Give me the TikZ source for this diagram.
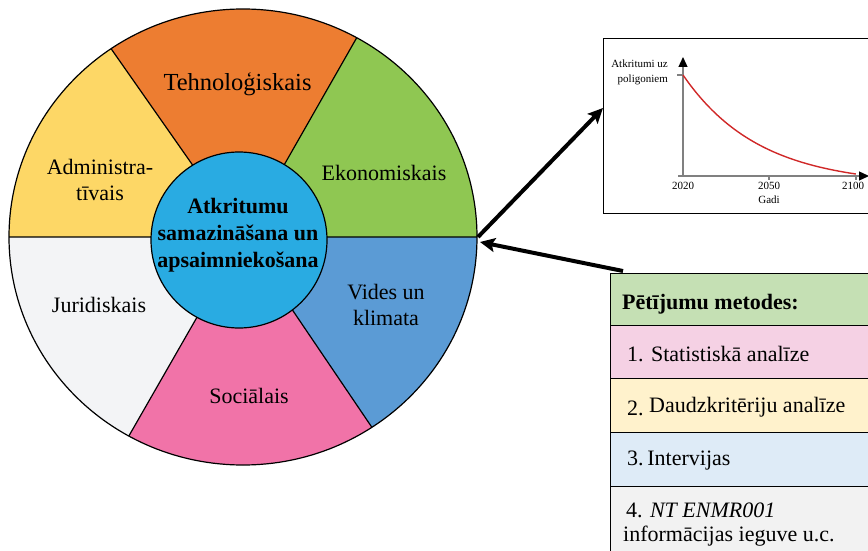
\documentclass[tikz,border=0pt]{standalone}
\usepackage{fontspec}
\setmainfont{Liberation Serif}
\usetikzlibrary{arrows.meta}
\definecolor{cadm}{HTML}{FDD766}
\definecolor{ctech}{HTML}{ED7D31}
\definecolor{ceco}{HTML}{8FC752}
\definecolor{cenv}{HTML}{5B9BD5}
\definecolor{csoc}{HTML}{F173A8}
\definecolor{cjur}{HTML}{F3F4F6}
\definecolor{chub}{HTML}{29ABE2}
\definecolor{thead}{HTML}{C5E0B4}
\definecolor{trowa}{HTML}{F5D1E4}
\definecolor{trowb}{HTML}{FFF2CC}
\definecolor{trowc}{HTML}{DEEBF7}
\definecolor{trowd}{HTML}{F2F2F2}
\definecolor{caxis}{HTML}{808080}
\definecolor{ccurve}{HTML}{D02828}
\begin{document}
\begin{tikzpicture}[x=1pt,y=-1pt,
  wline/.style={line width=1.2, black},
  lbl/.style={font=\fontsize{22}{26}\selectfont, inner sep=0, anchor=base, align=center},
  hubtext/.style={font=\fontsize{22}{27}\selectfont\bfseries, inner sep=0, anchor=base, align=center},
  small/.style={font=\fontsize{11}{15}\selectfont, inner sep=0},
  rowbox/.style={draw, line width=1.2, minimum width=275, anchor=north west, inner sep=0},
  rowtext/.style={font=\fontsize{22}{24}\selectfont, inner sep=0, anchor=base west, align=left},
  bigarrow/.style={line width=4, -{Stealth[length=15,width=14,inset=3]}},
  axisline/.style={line width=1.3, caxis},
]
\useasboundingbox (0,0) rectangle (868,551);
% wheel
\coordinate (C) at (243,237);
\coordinate (pL) at (-150,237);
\coordinate (pUL) at (-150,-324);
\coordinate (pUR) at (582,-357);
\coordinate (pR) at (800,237);
\coordinate (pLR) at (627,804);
\coordinate (pLL) at (-96,828);
\begin{scope}
  \clip (C) ellipse [x radius=234, y radius=228];
  \fill[cadm] (C) -- (pL) -- (pUL) -- cycle;
  \fill[ctech] (C) -- (pUL) -- (pUR) -- cycle;
  \fill[ceco] (C) -- (pUR) -- (pR) -- cycle;
  \fill[cenv] (C) -- (pR) -- (pLR) -- cycle;
  \fill[csoc] (C) -- (pLR) -- (pLL) -- cycle;
  \fill[cjur] (C) -- (pLL) -- (pL) -- cycle;
  \draw[wline] (C) -- (pL) (C) -- (pUL) (C) -- (pUR) (C) -- (pR) (C) -- (pLR) (C) -- (pLL);
\end{scope}
\draw[wline] (C) ellipse [x radius=234, y radius=228];
\node[circle, draw, line width=1.2, fill=chub, minimum size=176, inner sep=0] (hub) at (239,240) {};
\node[hubtext] (hubt) at (238,267) {Atkritumu\\samazināšana un\\apsaimniekošana};
\node[lbl, font=\fontsize{24.5}{28}\selectfont] (tech) at (237.5,91) {Tehnoloģiskais};
\node[lbl] (adm) at (100,200) {Administra-\\tīvais};
\node[lbl] (eco) at (384,180) {Ekonomiskais};
\node[lbl] (jur) at (99,312) {Juridiskais};
\node[lbl] (env) at (386,325) {Vides un\\klimata};
\node[lbl] (soc) at (249,403) {Sociālais};
% chart
\node[draw, line width=1.3, minimum width=275, minimum height=175, anchor=north west, inner sep=0] (chart) at (603,38) {};
\coordinate (O) at (683,176);
\coordinate (ytop) at (683,57);
\coordinate (xleft) at (678,176);
\coordinate (xright) at (869,176);
\draw[axisline, -{Triangle[length=10,width=9,color=black]}] (O) -- (ytop);
\draw[axisline, -{Triangle[length=10,width=9,color=black]}] (xleft) -- (xright);
\draw[axisline] (677,75) -- (683,75);
\draw[axisline] (769,176) -- (769,180);
\draw[axisline] (856,176) -- (856,180);
\draw[line width=1.4, ccurve] plot[domain=0:1, samples=60, smooth] ({683+173*\x},{75+110.3*(1-exp(-2.28*\x))});
\node[small, anchor=base east, align=right] (ylab) at (668,83) {Atkritumi uz\\poligoniem};
\node[small, anchor=base] (y2020) at (683,189.5) {2020};
\node[small, anchor=base] (y2050) at (769,189.5) {2050};
\node[small, anchor=base] (y2100) at (853,189.5) {2100};
\node[small, anchor=base] (xlab) at (769,203) {Gadi};
% table
\node[rowbox, fill=thead, minimum height=52] (th) at (610,273) {};
\node[rowbox, fill=trowa, minimum height=53] (r1) at (610,325) {};
\node[rowbox, fill=trowb, minimum height=54] (r2) at (610,378) {};
\node[rowbox, fill=trowc, minimum height=54] (r3) at (610,432) {};
\node[rowbox, fill=trowd, minimum height=80] (r4) at (610,486) {};
\node[rowtext, font=\fontsize{22}{24}\selectfont\bfseries] (tht) at (622,309) {Pētījumu metodes:};
\node[rowtext] (r1t) at (627,361) {1. Statistiskā analīze};
\node[rowtext] (r2t) at (627,412) {\raisebox{-3pt}{2.} Daudzkritēriju analīze};
\node[rowtext] (r3t) at (627,465) {3.\,Intervijas};
\node[rowtext] (r4t) at (626,517) {4. \textit{NT ENMR001}};
\node[rowtext] (r4u) at (623,541) {informācijas ieguve u.c.};
% arrows
\coordinate (wheelA) at (478,237);
\coordinate (wheelB) at (480,242);
\coordinate (chartin) at (603,108);
\coordinate (tabout) at (623,271);
\draw[bigarrow] (wheelA) -- (chartin);
\draw[bigarrow] (tabout) -- (wheelB);
\end{tikzpicture}
\end{document}
